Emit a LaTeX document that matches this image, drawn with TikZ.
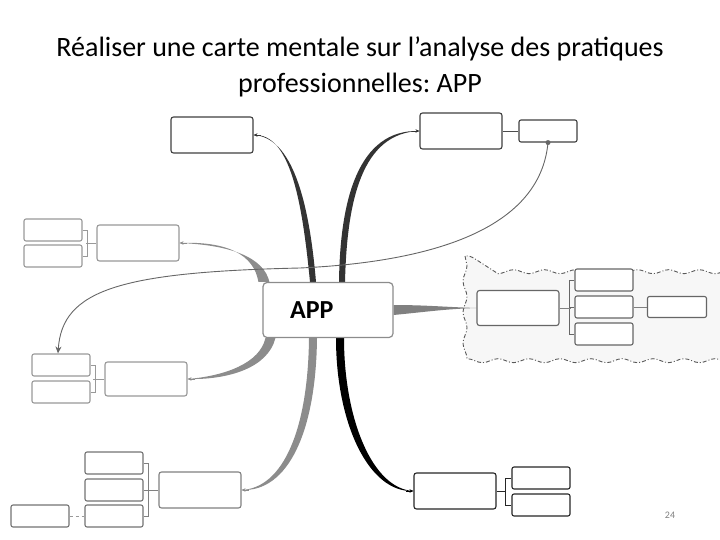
\documentclass[tikz,border=0pt]{standalone}
\usepackage{fontspec}
\setmainfont{Carlito}
\usetikzlibrary{arrows.meta,decorations.pathmorphing,backgrounds}
\frenchspacing

\begin{document}
\begin{tikzpicture}[x=1pt, y=-1pt, bigbox/.style={draw=#1, line width=1.1pt, rounded corners=2.5pt, fill=white, minimum width=82pt, minimum height=36pt, inner sep=0pt}, bigbox/.default=black!75, smallbox/.style={draw=#1, line width=1.1pt, rounded corners=2pt, fill=white, minimum width=58pt, minimum height=22pt, inner sep=0pt}, smallbox/.default=black!75, brk/.style={draw=#1, line width=0.9pt}, brk/.default=black!60, arr/.style={-{Stealth[length=4pt,width=3.5pt]}, line width=0.6pt, #1}, rel/.style={line width=0.9pt, black!60}]
\useasboundingbox (0,0) rectangle (720,540);
\node[font=\fontsize{28}{36}\selectfont, align=center] (title) at (360,67) {Réaliser une carte mentale sur l’analyse des pratiques\\professionnelles: APP};
\node[draw=black!45, line width=1.2pt, rounded corners=4pt, fill=white, minimum width=130pt, minimum height=55pt, text width=76pt, inner xsep=27pt, align=left, font=\fontsize{26}{30}\selectfont\bfseries] (app) at (328,310) {APP};
% top
\node[bigbox] (tl) at (212,135) {}; \node[bigbox] (tm) at (461,131) {}; \node[smallbox] (trs) at (548,131) {};
% left
\node[bigbox=black!40] (lm) at (138,243) {}; \node[smallbox=black!40] (ls1) at (53,230) {}; \node[smallbox=black!40] (ls2) at (53,256) {};
\node[bigbox=black!40, minimum height=34pt] (llm) at (146,379) {}; \node[smallbox=black!40] (lls1) at (61,365) {}; \node[smallbox=black!40] (lls2) at (61,392) {};
% bottom
\node[bigbox=black!50] (blb) at (200,490) {}; \node[smallbox=black!55] (bls1) at (114,463) {}; \node[smallbox=black!55] (bls2) at (114,490) {}; \node[smallbox=black!55] (bls3) at (114,516) {}; \node[smallbox=black!55] (blf) at (40,516) {};
\node[bigbox=black!85] (brb) at (455,491) {}; \node[smallbox=black!85] (brs1) at (541,478) {}; \node[smallbox=black!85] (brs2) at (541,505) {};
% right group
\node[bigbox=black!60, minimum height=35pt] (cb) at (518,308) {}; \node[smallbox=black!60] (cs1) at (604,280) {}; \node[smallbox=black!60] (cs2) at (604,307) {}; \node[smallbox=black!60] (cs3) at (604,334) {}; \node[smallbox=black!60, minimum width=59pt, minimum height=21pt] (cf) at (677,307) {};
\node[font=\fontsize{10}{12}\selectfont, text=black!50] (pnum) at (670,515) {24};
\begin{scope}[on background layer]
\draw[black!65, line width=0.9pt, dash pattern=on 4pt off 2pt on 1pt off 2pt, fill=black!3, decorate, decoration={snake, amplitude=2pt, segment length=31pt}] (465,256) rectangle (717,356);
% branches
\fill[black!80] ([xshift=-18pt]app.north) .. controls (302,200) and (290,133) .. (tl.east) .. controls (292,137) and (309,200) .. ([xshift=-12pt]app.north) -- cycle;
\fill[black!80] ([xshift=11pt]app.north) .. controls (340,200) and (358,129) .. (tm.west) .. controls (362,133) and (347,200) .. ([xshift=17pt]app.north) -- cycle;
\fill[black!45] ([xshift=-4pt]app.north west) .. controls (254,255) and (228,241) .. (lm.east) .. controls (232,245) and (264,258) .. ([xshift=7pt]app.north west) -- cycle;
\fill[black!45] ([xshift=3pt]app.south west) .. controls (260,363) and (225,376) .. (llm.east) .. controls (228,380) and (268,368) .. ([xshift=13pt]app.south west) -- cycle;
\fill[black!45] ([xshift=-19pt]app.south) .. controls (308,430) and (283,488) .. (blb.east) .. controls (288,492) and (316,432) .. ([xshift=-11pt]app.south) -- cycle;
\fill[black] ([xshift=8pt]app.south) .. controls (336,422) and (368,493) .. (brb.west) .. controls (372,489) and (344,418) .. ([xshift=16pt]app.south) -- cycle;
\fill[black!50] ([yshift=5pt]app.east) .. controls (425,305) and (445,307) .. (cb.west) .. controls (445,309) and (425,312) .. ([yshift=-5pt]app.east) -- cycle;
\end{scope}
\draw[arr=black!80] ([xshift=7pt]tl.east) -- (tl.east); \draw[arr=black!80] ([xshift=-7pt]tm.west) -- (tm.west); \draw[arr=black!45] ([xshift=7pt]lm.east) -- (lm.east); \draw[arr=black!45] ([xshift=7pt]llm.east) -- (llm.east); \draw[arr=black!45] ([xshift=7pt]blb.east) -- (blb.east); \draw[arr=black] ([xshift=-7pt]brb.west) -- (brb.west);
% relation
\draw[rel, -{Stealth[length=7pt,width=6pt]}] (trs.south) .. controls (540,230) and (430,262) .. (300,268) .. controls (120,272) and (62,290) .. ([xshift=-3pt]lls1.north);
\fill[black!60] (trs.south) circle (2.5pt);
% brackets
\draw[brk=black!70] (tm.east) -- (trs.west);
\draw[brk=black!40] (ls1.east) -- ++(5,0) |- (ls2.east); \draw[brk=black!40] (lm.west) -- ++(-10,0);
\draw[brk=black!40] (lls1.east) -- ++(5,0) |- (lls2.east); \draw[brk=black!40] (llm.west) -- ++(-11,0);
\draw[brk=black!50] (bls1.east) -- ++(5,0) |- (bls3.east); \draw[brk=black!50] (bls2.east) -- ++(5,0); \draw[brk=black!50] (blb.west) -- ++(-11,0); \draw[brk=black!40, dashed] (blf.east) -- (bls3.west);
\draw[brk=black!85] (brs1.west) -- ++(-6,0) |- (brs2.west); \draw[brk=black!85] (brb.east) -- ++(9,0);
\draw[brk=black!60] (cs1.west) -- ++(-5,0) |- (cs3.west); \draw[brk=black!60] (cs2.west) -- ++(-5,0); \draw[brk=black!50] (cb.east) -- ++(11,0); \draw[brk=black!50] (cs2.east) -- (cf.west);
\end{tikzpicture}
\end{document}
